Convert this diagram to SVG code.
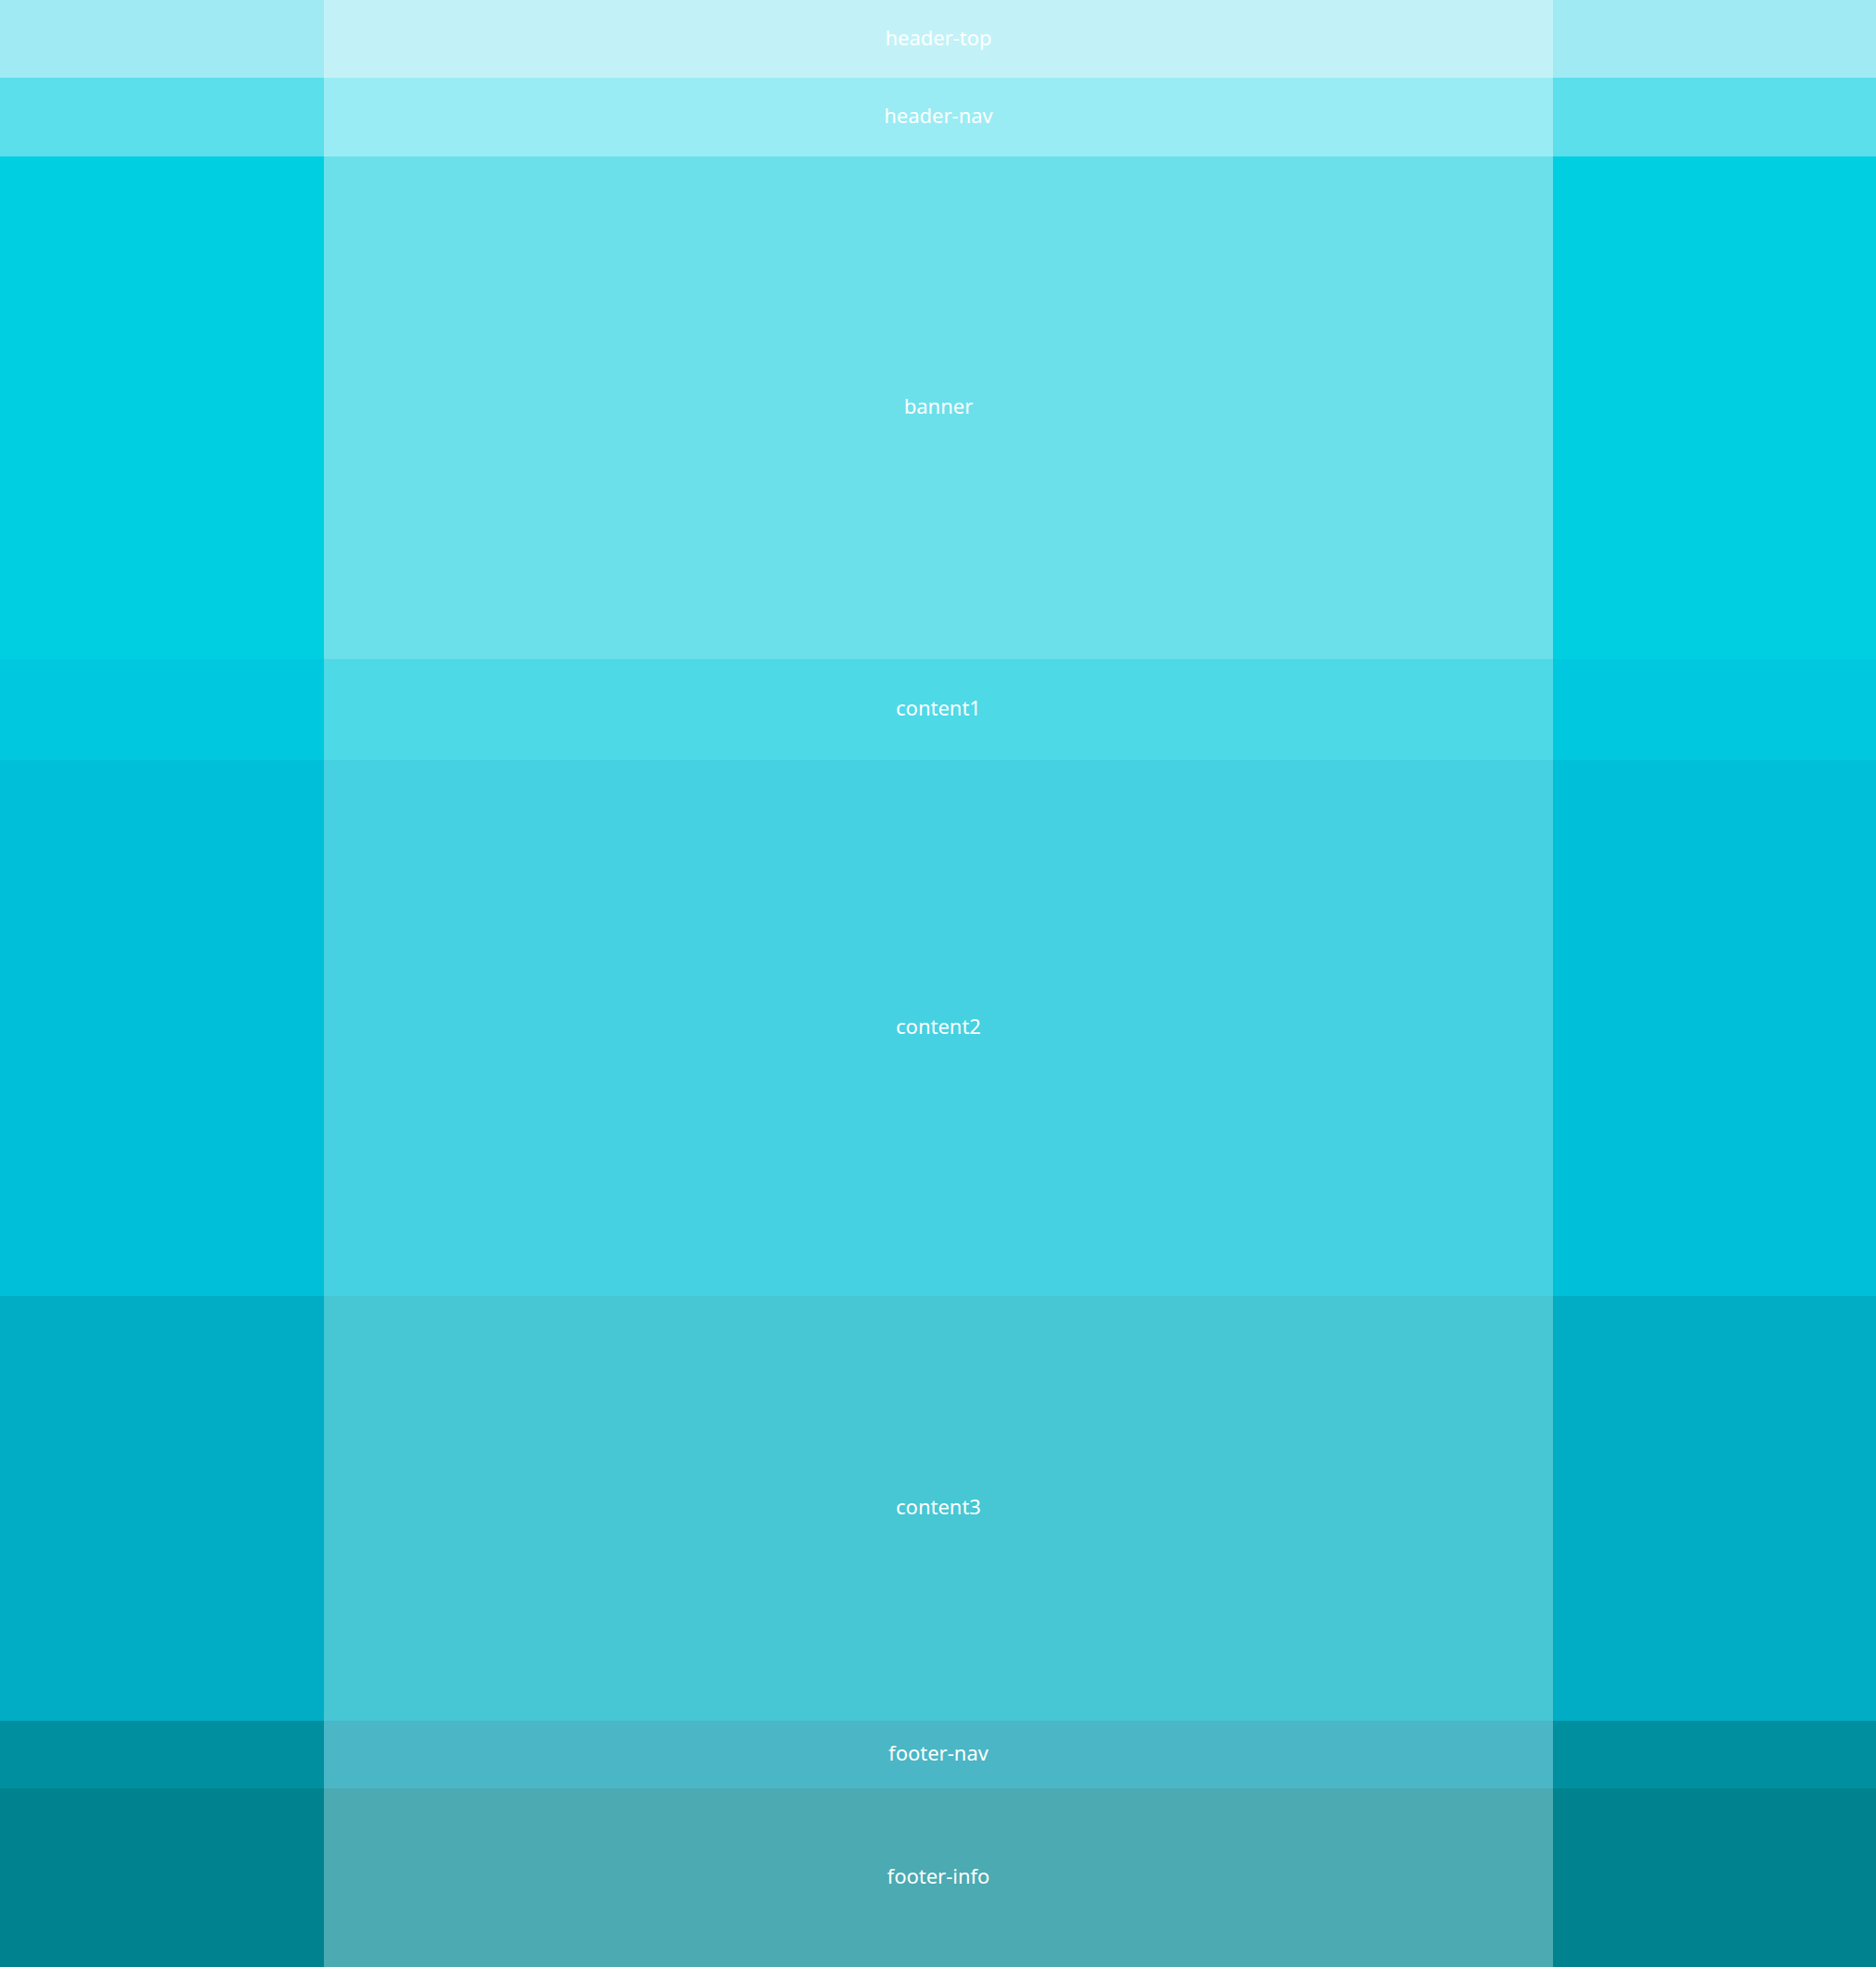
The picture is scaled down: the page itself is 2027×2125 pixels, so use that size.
<svg xmlns="http://www.w3.org/2000/svg" width="2027" height="2125" viewBox="0 0 2027 2125">
<style>
.lbl{font-family:"Noto Sans","Open Sans","DejaVu Sans",sans-serif;font-size:22px;fill:#ffffff;text-anchor:middle;dominant-baseline:central}
</style>
<g id="header-top">
<rect x="0" y="0" width="2027" height="84" fill="#A0EAF4"/>
<rect x="350" y="0" width="1328" height="84" fill="#C2F2F7"/>
<text class="lbl" x="1014" y="39.5">header-top</text>
</g>
<g id="header-nav">
<rect x="0" y="84" width="2027" height="85" fill="#5ADFEB"/>
<rect x="350" y="84" width="1328" height="85" fill="#9AECF4"/>
<text class="lbl" x="1014" y="123.5">header-nav</text>
</g>
<g id="banner">
<rect x="0" y="169" width="2027" height="543" fill="#00CFE2"/>
<rect x="350" y="169" width="1328" height="543" fill="#6CE0EA"/>
<text class="lbl" x="1014" y="437.5">banner</text>
</g>
<g id="content1">
<rect x="0" y="712" width="2027" height="109" fill="#00C8DE"/>
<rect x="350" y="712" width="1328" height="109" fill="#4ED9E7"/>
<text class="lbl" x="1014" y="763.5">content1</text>
</g>
<g id="content2">
<rect x="0" y="821" width="2027" height="579" fill="#00BFD8"/>
<rect x="350" y="821" width="1328" height="579" fill="#45D1E1"/>
<text class="lbl" x="1014" y="1107.5">content2</text>
</g>
<g id="content3">
<rect x="0" y="1400" width="2027" height="459" fill="#00ADC5"/>
<rect x="350" y="1400" width="1328" height="459" fill="#47C6D4"/>
<text class="lbl" x="1014" y="1626.5">content3</text>
</g>
<g id="footer-nav">
<rect x="0" y="1859" width="2027" height="73" fill="#008F9F"/>
<rect x="350" y="1859" width="1328" height="73" fill="#4BB6C5"/>
<text class="lbl" x="1014" y="1892.5">footer-nav</text>
</g>
<g id="footer-info">
<rect x="0" y="1932" width="2027" height="193" fill="#00838F"/>
<rect x="350" y="1932" width="1328" height="193" fill="#4BAAB2"/>
<text class="lbl" x="1014" y="2025.5">footer-info</text>
</g>
<g id="connectors"></g>
</svg>
